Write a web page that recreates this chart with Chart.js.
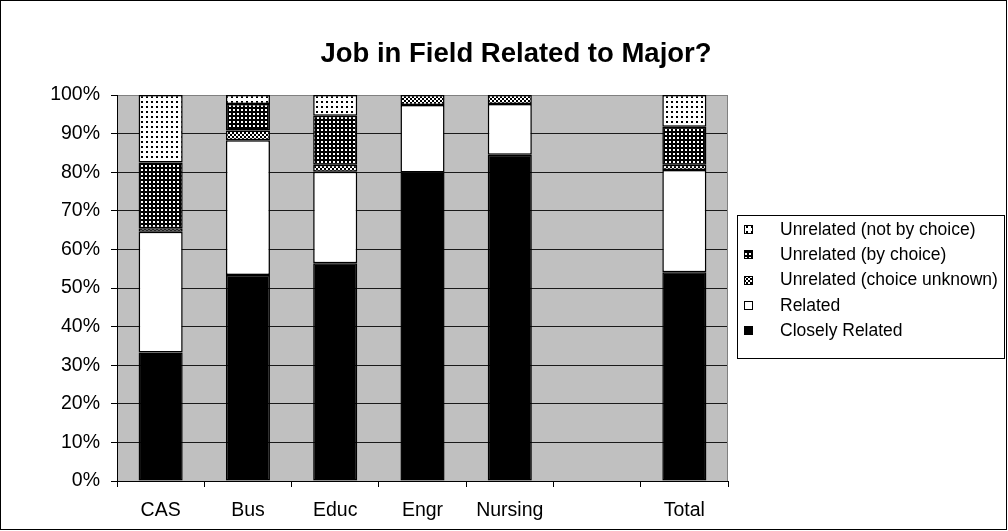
<!DOCTYPE html>
<html><head><meta charset="utf-8">
<script src="https://cdn.jsdelivr.net/npm/chart.js@4.4.1/dist/chart.umd.min.js"></script>
<style>html,body{margin:0;padding:0;background:#fff;}#wrap{width:1008px;height:531px;position:relative;}</style>
</head><body><div id="wrap"><canvas id="c" width="1008" height="531"></canvas></div>
<script>
const chartTitle = 'Job in Field Related to Major?';
const categories = ['CAS', 'Bus', 'Educ', 'Engr', 'Nursing', '', 'Total'];
const closelyRelated = [33.3, 53.4, 56.4, 79.9, 84.5, null, 54.1];
const related = [31.3, 34.9, 23.7, 17.5, 13.2, null, 26.5];
const unrelatedUnknown = [0.9, 2.5, 1.8, 2.6, 2.3, null, 1.3];
const unrelatedByChoice = [17.0, 6.9, 12.7, 0, 0, null, 9.9];
const unrelatedNotByChoice = [17.5, 2.3, 5.4, 0, 0, null, 8.2];
const seriesNames = ['Closely Related', 'Related', 'Unrelated (choice unknown)', 'Unrelated (by choice)', 'Unrelated (not by choice)'];
const yMin = 0, yMax = 100, yStep = 10;

const FONT = "'Liberation Sans', Arial, sans-serif";

function makePattern(size, bg, fg, cells) {
  const c = document.createElement('canvas');
  c.width = size; c.height = size;
  const g = c.getContext('2d');
  g.fillStyle = bg; g.fillRect(0, 0, size, size);
  g.fillStyle = fg;
  cells.forEach(r => g.fillRect(r[0], r[1], r[2], r[3]));
  return g.createPattern(c, 'repeat');
}
const patNotByChoice = makePattern(5, '#fff', '#000', [[1, 1, 2, 2]]);
const patByChoice = makePattern(4, '#000', '#fff', [[1, 1, 2, 2]]);
const patUnknown = makePattern(4, '#fff', '#000', [[0, 0, 2, 2], [2, 2, 2, 2]]);

const fills = ['#000000', '#ffffff', patUnknown, patByChoice, patNotByChoice];
const seriesData = [closelyRelated, related, unrelatedUnknown, unrelatedByChoice, unrelatedNotByChoice];

const datasets = seriesData.map((d, i) => ({
  label: seriesNames[i],
  data: d,
  backgroundColor: fills[i],
  borderColor: '#000',
  borderWidth: 1.5,
  borderSkipped: false,
  barPercentage: 0.505,
  categoryPercentage: 1.0
}));

const decor = {
  id: 'decor',
  beforeDraw(chart) {
    const c = chart.ctx, a = chart.chartArea;
    c.save();
    c.fillStyle = '#fff';
    c.fillRect(0, 0, chart.width, chart.height);
    c.fillStyle = '#c0c0c0';
    c.fillRect(a.left, a.top, a.right - a.left, a.bottom - a.top);
    c.restore();
  },
  afterDatasetsDraw(chart) {
    const c = chart.ctx, a = chart.chartArea;
    c.save();
    c.strokeStyle = '#808080';
    c.lineWidth = 1;
    c.beginPath();
    c.moveTo(Math.round(a.right) - 0.5, a.bottom);
    c.lineTo(Math.round(a.right) - 0.5, a.top);
    c.stroke();
    c.restore();
  },
  afterDraw(chart) {
    const c = chart.ctx;
    c.save();
    c.strokeStyle = '#000';
    c.lineWidth = 1;
    c.strokeRect(0.5, 0.5, 1006, 529);
    c.fillStyle = '#000';
    c.font = 'bold 27.5px ' + FONT;
    c.textAlign = 'center';
    c.textBaseline = 'alphabetic';
    c.fillText(chartTitle, 516, 62);
    const lx = 737.5, ly = 215.5, lw = 267, lh = 143;
    c.strokeRect(lx, ly, lw, lh);
    c.font = '17.5px ' + FONT;
    c.textAlign = 'left';
    c.textBaseline = 'middle';
    const ds = chart.data.datasets.slice().reverse();
    ds.forEach((d, i) => {
      const cy = 229 + i * 25.3;
      c.fillStyle = d.backgroundColor;
      c.fillRect(744, Math.round(cy) - 4, 9, 9);
      c.strokeStyle = '#000';
      c.strokeRect(744.5, Math.round(cy) - 3.5, 8, 8);
      c.fillStyle = '#000';
      c.fillText(d.label, 780, cy + 1);
    });
    c.restore();
  }
};

new Chart(document.getElementById('c'), {
  type: 'bar',
  data: { labels: categories, datasets: datasets },
  options: {
    responsive: false,
    animation: false,
    devicePixelRatio: 1,
    layout: { padding: { left: 0, right: 280, top: 95, bottom: 0 } },
    plugins: { legend: { display: false }, title: { display: false }, tooltip: { enabled: false } },
    scales: {
      x: {
        stacked: true,
        afterFit: s => { s.height = 50; },
        grid: { offset: true, drawOnChartArea: false, drawTicks: true, tickLength: 6, color: '#000' },
        border: { color: '#000', width: 1 },
        ticks: { color: '#000', padding: 12, font: { family: FONT, size: 19.5 } }
      },
      y: {
        stacked: true,
        min: yMin, max: yMax,
        afterFit: s => { s.width = 117; },
        grid: { color: c => (c.tick && c.tick.value === yMax) ? '#808080' : '#1a1a1a', tickLength: 6, tickColor: '#000' },
        border: { color: '#000', width: 1 },
        ticks: { stepSize: yStep, color: '#000', padding: 11, font: { family: FONT, size: 19.5 }, callback: v => v + '%' }
      }
    }
  },
  plugins: [decor]
});
</script></body></html>
